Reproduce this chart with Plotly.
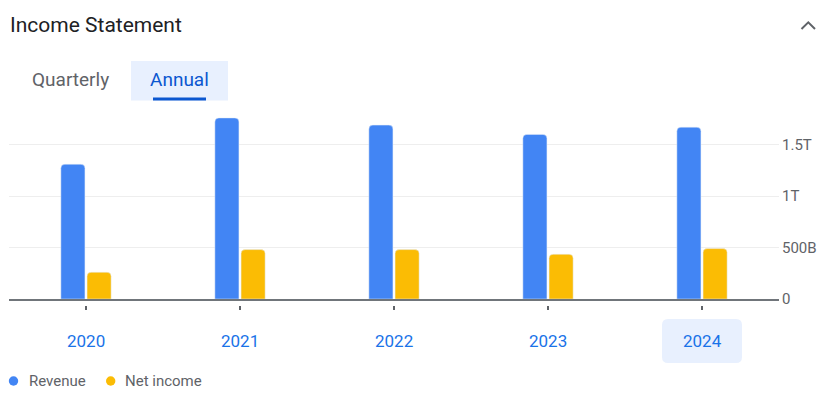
import plotly.graph_objects as go

# ---- data ----
categories = ["2020", "2021", "2022", "2023", "2024"]
revenue = [1.31e12, 1.76e12, 1.69e12, 1.60e12, 1.67e12]
net_income = [0.26e12, 0.48e12, 0.48e12, 0.435e12, 0.49e12]
tick_vals = [0, 5e11, 1e12, 1.5e12]
tick_text = ["0", "500B", "1T", "1.5T"]
series_names = ["Revenue", "Net income"]
tabs = ["Quarterly", "Annual"]
selected_year = "2024"

# page body has an 8px margin; figure frame is shifted by OFF
OFF = 8
W, H = 831 - OFF, 408 - OFF
# plot area in page pixels: x 9..779, y 110..299
PX0, PX1, PY0, PY1 = 9, 779, 110, 299
ML, MR = PX0 - OFF, W - (PX1 - OFF)
MT, MB = PY0 - OFF, H - (PY1 - OFF)
PW = PX1 - PX0
PH = PY1 - PY0

BLUE = "#4285f4"
YELLOW = "#fbbc04"
GRAY = "#5f6368"
FONT = "Roboto, Arial, sans-serif"


def xp(px):
    return (px - PX0) / PW


def yp(py):
    return (PY1 - py) / PH


fig = go.Figure()
fig.add_trace(go.Bar(x=categories, y=revenue, name=series_names[0],
                     marker=dict(color=BLUE), showlegend=False))
fig.add_trace(go.Bar(x=categories, y=net_income, name=series_names[1],
                     marker=dict(color=YELLOW), showlegend=False))

shapes = []
annotations = []

# title
annotations.append(dict(text="Income Statement", x=xp(8), y=yp(25), xref="paper", yref="paper",
                        xanchor="left", yanchor="middle", showarrow=False,
                        font=dict(family=FONT, size=21, color="#202124")))
# chevron
shapes.append(dict(type="path", xref="paper", yref="paper",
                   path=f"M {xp(801.5)} {yp(29)} L {xp(808.3)} {yp(22.3)} L {xp(815)} {yp(29)}",
                   line=dict(color=GRAY, width=2)))
# tabs
shapes.append(dict(type="rect", xref="paper", yref="paper", x0=xp(131), x1=xp(228), y0=yp(61), y1=yp(100.5),
                   fillcolor="#e8f0fe", line=dict(width=0), layer="below"))
shapes.append(dict(type="rect", xref="paper", yref="paper", x0=xp(153), x1=xp(206), y0=yp(97.5), y1=yp(100.5),
                   fillcolor="#0b57d0", line=dict(width=0)))
annotations.append(dict(text=tabs[0], x=xp(70), y=yp(80), xref="paper", yref="paper",
                        xanchor="center", yanchor="middle", showarrow=False,
                        font=dict(family=FONT, size=19, color=GRAY)))
annotations.append(dict(text=tabs[1], x=xp(179.5), y=yp(80), xref="paper", yref="paper",
                        xanchor="center", yanchor="middle", showarrow=False,
                        font=dict(family=FONT, size=19, color="#0b57d0")))

# x labels, ticks and selected-year highlight (positions from category index)
n = len(categories)
for i, c in enumerate(categories):
    cx = (i + 0.5) / n
    if c == selected_year:
        hw = 40 / PW
        x0, x1 = cx - hw, cx + hw
        y0, y1 = yp(363), yp(319)
        rx, ry = 6 / PW, 6 / PH
        path = (f"M {x0+rx} {y1} L {x1-rx} {y1} Q {x1} {y1} {x1} {y1-ry} "
                f"L {x1} {y0+ry} Q {x1} {y0} {x1-rx} {y0} L {x0+rx} {y0} "
                f"Q {x0} {y0} {x0} {y0+ry} L {x0} {y1-ry} Q {x0} {y1} {x0+rx} {y1} Z")
        shapes.append(dict(type="path", xref="paper", yref="paper", path=path,
                           fillcolor="#e8f0fe", line=dict(width=0), layer="below"))
    shapes.append(dict(type="line", xref="paper", yref="paper", x0=cx, x1=cx, y0=yp(306), y1=yp(310),
                       line=dict(color=GRAY, width=2)))
    annotations.append(dict(text=c, x=cx, y=yp(341), xref="paper", yref="paper",
                            xanchor="center", yanchor="middle", showarrow=False,
                            font=dict(family=FONT, size=17, color="#1a73e8")))

# legend
legend_items = [(series_names[0], BLUE, 13.5, 27), (series_names[1], YELLOW, 110.7, 123)]
for name, col, dotx, tx in legend_items:
    shapes.append(dict(type="circle", xref="paper", yref="paper",
                       x0=xp(dotx - 4.7), x1=xp(dotx + 4.7), y0=yp(381 + 4.7), y1=yp(381 - 4.7),
                       fillcolor=col, line=dict(width=0)))
    annotations.append(dict(text=name, x=xp(tx), y=yp(381), xref="paper", yref="paper",
                            xanchor="left", yanchor="middle", showarrow=False,
                            font=dict(family=FONT, size=15, color=GRAY)))

fig.update_layout(
    width=W, height=H,
    margin=dict(l=ML, r=MR, t=MT, b=MB, pad=0),
    paper_bgcolor="white", plot_bgcolor="white",
    barmode="group", bargap=0.66, bargroupgap=0.08, barcornerradius=4,
    showlegend=False,
    font=dict(family=FONT),
    xaxis=dict(type="category", range=[-0.5, n - 0.5], showticklabels=False, ticks="",
               showgrid=False, showline=True, linecolor="#70757a", linewidth=2,
               zeroline=False, fixedrange=True),
    yaxis=dict(side="right", range=[0, 1.837e12], tickvals=tick_vals, ticktext=tick_text,
               showgrid=True, gridcolor="#eeeeee", gridwidth=1, zeroline=False,
               showline=False, ticks="", ticklabelstandoff=2,
               tickfont=dict(family=FONT, size=15, color=GRAY),
               fixedrange=True),
    shapes=shapes,
    annotations=annotations,
)

fig.write_html("out.html")
